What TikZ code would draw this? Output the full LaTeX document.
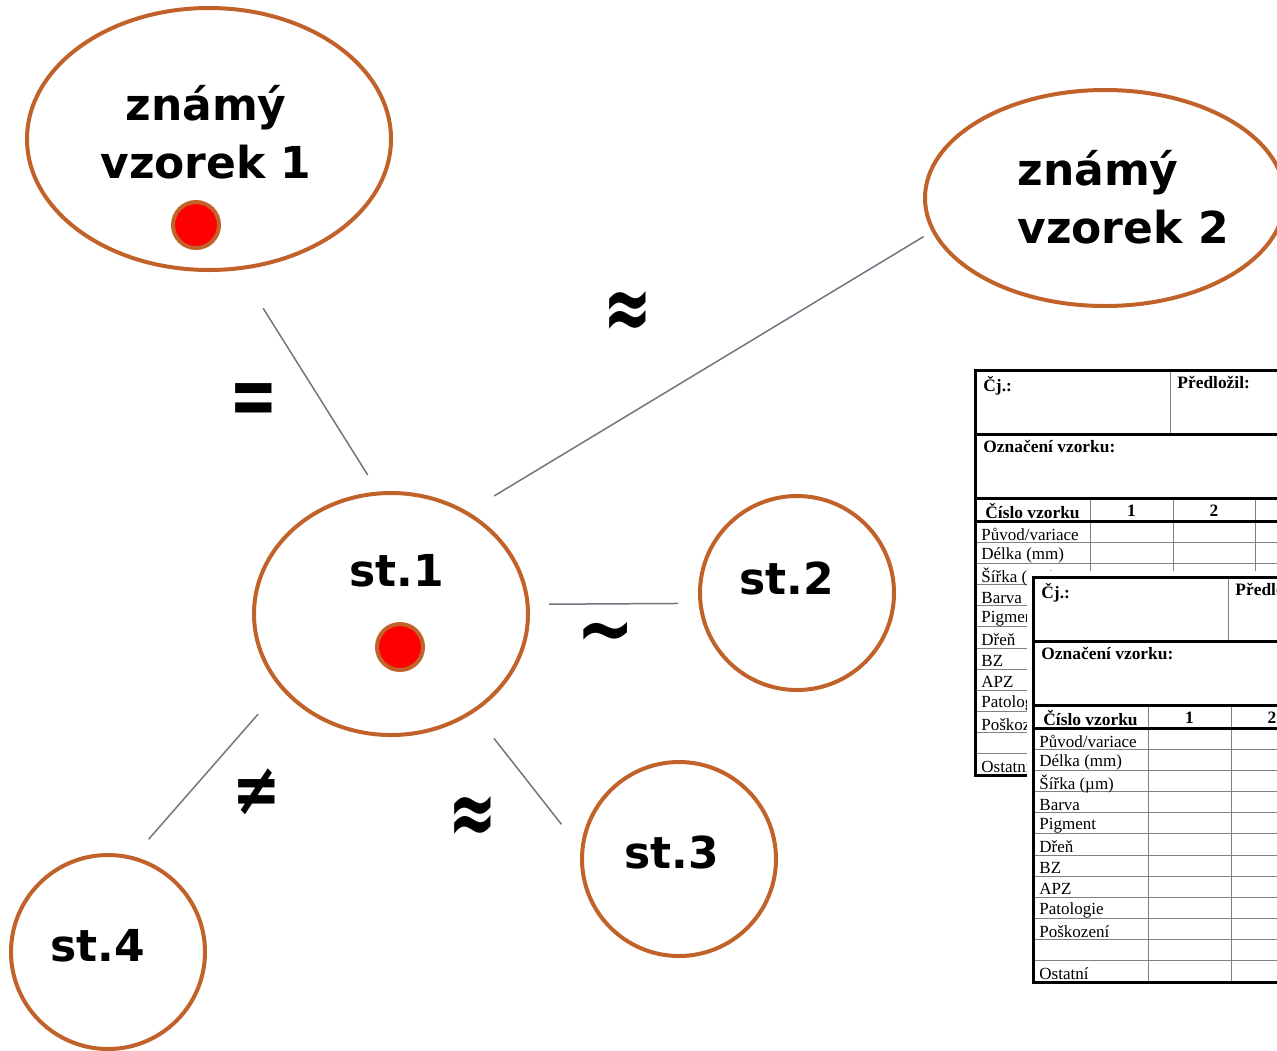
\documentclass[tikz,border=0pt]{standalone}
\usepackage{fontspec}
\setmainfont{DejaVu Sans}
\newfontfamily\formfont{Liberation Serif}
\usepackage{graphicx}
\usepackage{tikz}
\usetikzlibrary{shapes,calc}
\definecolor{rim}{RGB}{192,98,42}
\definecolor{linkgray}{RGB}{112,118,128}

\begin{document}
\begin{tikzpicture}[x=0.5pt,y=-0.5pt]
\tikzstyle{sample}=[ellipse,draw=rim,line width=2pt,inner sep=0pt]
\tikzstyle{standard}=[circle,draw=rim,line width=2pt,minimum size=97pt,inner sep=0pt]
\tikzstyle{dot}=[circle,draw=rim,fill=red,line width=2pt,minimum size=23pt,inner sep=0pt]
\tikzstyle{title}=[font=\bfseries\fontsize{22}{29}\selectfont,inner sep=0pt]
\tikzstyle{rel}=[font=\bfseries\fontsize{29}{30}\selectfont,inner sep=0pt]
\tikzstyle{link}=[draw=linkgray,line width=0.75pt]
\tikzstyle{frame}=[line width=1.5pt]
\tikzstyle{gridline}=[draw=gray,line width=0.5pt]
\tikzstyle{cell}=[font=\formfont\fontsize{8.5}{10}\selectfont,inner sep=0pt,anchor=west]
\tikzstyle{head}=[font=\formfont\bfseries\fontsize{8.7}{10}\selectfont,inner sep=0pt]

\useasboundingbox (0,0) rectangle (1277,1050);

% the two record forms, second one lying over the first
\foreach \tx/\ty/\t in {975/370/a,1033/577/b}{
\begin{scope}[shift={(\tx,\ty)}]
\fill [white] (-6,-6) rectangle (400,411);
\foreach \k in {1,...,11}
  \draw [gridline] (0,{151+21.17*\k}) -- (400,{151+21.17*\k});
\draw [gridline] (195,0) -- (195,64);
\foreach \c in {115,198,280}
  \draw [gridline] (\c,128) -- (\c,405);
\draw [frame] (0,64) -- (400,64) (0,128) -- (400,128) (0,151) -- (400,151);
\draw [frame] (400,0) -- (0,0) -- (0,405) -- (400,405);
\node (cj-\t) [head,anchor=north west] at (8,6) {Čj.:};
\node (by-\t) [head,anchor=north west] at (202,6) {Předložil:};
\node (mark-\t) [head,anchor=north west] at (8,70) {Označení vzorku:};
\node (no-\t) [head] at (57.5,141) {Číslo vzorku};
\node (c1-\t) [head] at (156.5,141) {1};
\node (c2-\t) [head] at (239,141) {2};
\foreach \lab [count=\k] in {Původ/variace,Délka (mm),Šířka (µm),Barva,Pigment,Dřeň,BZ,APZ,Patologie,Poškození,{},Ostatní}
  \node (r\k-\t) [cell] at (6,{154+21.1*(\k-0.5)}) {\lab};
\end{scope}
}

% samples
\node (K1) [sample,minimum width=182pt,minimum height=131pt] at (209,139) {};
\node (K2) [sample,minimum width=180pt,minimum height=108pt] at (1105,198) {};
\node (S1) [sample,minimum width=137pt,minimum height=121pt] at (391,614) {};
\node (S2) [standard] at (797,593) {};
\node (S3) [standard] at (679,859) {};
\node (S4) [standard] at (108,952) {};

\node (K1l) [title,align=center] at (206,132) {známý\\vzorek 1};
\node (K2l) [title,align=left,anchor=west] at (1017,197) {známý\\vzorek 2};
\node (S1l) [title] at (397,571) {st.1};
\node (S2l) [title] at (787,578) {st.2};
\node (S3l) [title] at (672,852) {st.3};
\node (S4l) [title] at (98,946) {st.4};

\node (D1) [dot] at (196,225) {};
\node (D2) [dot] at (400,647) {};

% comparisons
\draw [link,shorten <=22.5pt,shorten >=9.75pt] (K1.-77.8) -- (S1.96.5);
\draw [link,shorten <=15.25pt,shorten >=4.75pt] (S1.53.6) -- (K2.191.3);
\draw [link,shorten <=9.75pt,shorten >=10.25pt] (S1.4.2) -- (S2.186.8);
\draw [link,shorten <=16.25pt,shorten >=15.5pt] (S1.-50.5) -- (S3.174.1);
\draw [link,shorten <=17pt,shorten >=11.35pt] (S1.214.1) -- (S4.75.7);

\node (eq) [rel] at (254,405) {\scalebox{1}[1.5]{=}};
\node (ap1) [rel] at (628,315) {\scalebox{1}[1.6]{≈}};
\node (ti) [rel] at (606,640) {\scalebox{1.2}[1.5]{\textasciitilde}};
\node (ap2) [rel] at (473,820) {\scalebox{1}[1.6]{≈}};
\node (ne) [rel] at (257,792) {\scalebox{1}[1.25]{≠}};
\end{tikzpicture}
\end{document}
